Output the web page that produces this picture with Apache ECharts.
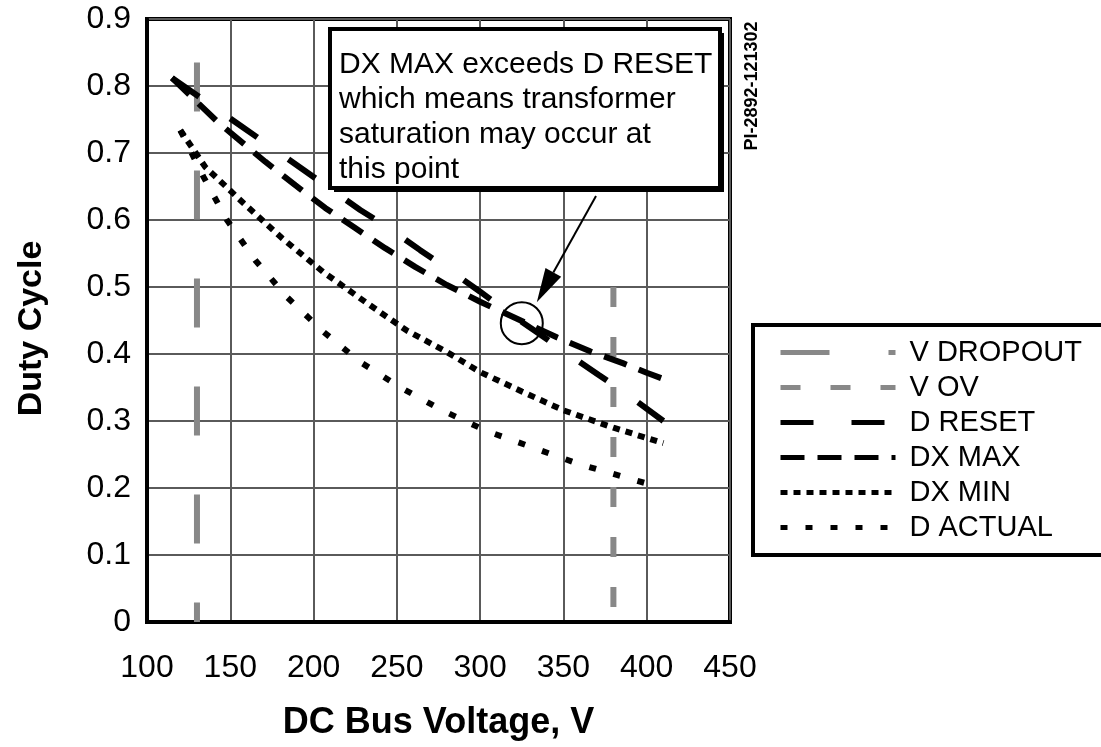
<!DOCTYPE html>
<html lang="en">
<head>
<meta charset="UTF-8">
<title>Duty Cycle vs DC Bus Voltage</title>
<style>html,body{margin:0;padding:0;background:#fff}</style>
</head>
<body>
<div id="chart" style="width:1101px;height:747px"></div>
<script src="https://cdn.jsdelivr.net/npm/echarts@6/dist/echarts.min.js"></script>
<script>
const FONT = '"Liberation Sans", Arial, sans-serif';

// axis ticks
const xTicks = [100, 150, 200, 250, 300, 350, 400, 450];
const yTicks = [0, 0.1, 0.2, 0.3, 0.4, 0.5, 0.6, 0.7, 0.8, 0.9];

// vertical limit lines
const vDropoutX = [130, 130];
const vDropoutY = [0.835, 0];
const vOvX = [380, 380];
const vOvY = [0.5, 0];

// D RESET
const dResetX = [115, 156, 171, 207, 228, 244, 264, 280, 300, 319, 335, 351, 371, 387, 410];
const dResetY = [0.812, 0.741, 0.715, 0.652, 0.615, 0.590, 0.555, 0.528, 0.493, 0.458, 0.431, 0.403, 0.369, 0.342, 0.300];

// DX MAX
const dxMaxX = [115, 143, 171, 189, 207, 225, 243, 261, 280, 300, 326, 346, 366, 386, 400, 413];
const dxMaxY = [0.812, 0.745, 0.687, 0.652, 0.618, 0.588, 0.558, 0.530, 0.503, 0.478, 0.448, 0.425, 0.404, 0.386, 0.372, 0.360];

// DX MIN
const dxMinX = [120, 135, 158, 181, 206, 232, 256, 280, 300, 325, 350, 380, 410];
const dxMinY = [0.734, 0.679, 0.625, 0.573, 0.522, 0.476, 0.435, 0.403, 0.373, 0.344, 0.316, 0.290, 0.267];

// D ACTUAL
const dActX = [120, 134, 148, 165, 184, 206, 228, 253, 278, 304, 332, 359, 387, 401];
const dActY = [0.734, 0.664, 0.600, 0.540, 0.485, 0.433, 0.388, 0.349, 0.315, 0.285, 0.260, 0.236, 0.216, 0.206];

const names = ['V DROPOUT', 'V OV', 'D RESET', 'DX MAX', 'DX MIN', 'D ACTUAL'];

// line look for each series (same in legend)
const looks = [
    { color: '#888', width: 6, type: [49, 59] },
    { color: '#888', width: 6, type: [20, 30] },
    { color: '#000', width: 6, type: [33, 38] },
    { color: '#000', width: 6, type: [24, 13] },
    { color: '#000', width: 6, type: [7, 6] },
    { color: '#000', width: 6, type: [7, 18] }
];

const pts = (xs, ys) => xs.map((x, i) => [x, ys[i]]);
const dataSets = [
    pts(vDropoutX, vDropoutY),
    pts(vOvX, vOvY),
    pts(dResetX, dResetY),
    pts(dxMaxX, dxMaxY),
    pts(dxMinX, dxMinY),
    pts(dActX, dActY)
];

const oChart = echarts.init(document.getElementById('chart'));

oChart.setOption({
    animation: false,
    backgroundColor: '#fff',
    textStyle: { fontFamily: FONT },
    grid: {
        left: 147, top: 19, right: 371, bottom: 125,
        show: true, borderColor: '#000', borderWidth: 4
    },
    xAxis: {
        type: 'value',
        min: xTicks[0], max: xTicks[xTicks.length - 1], interval: xTicks[1] - xTicks[0],
        name: 'DC Bus Voltage, V',
        nameLocation: 'middle',
        nameGap: 83,
        nameTextStyle: { fontSize: 36, fontWeight: 'bold', color: '#000', fontFamily: FONT },
        axisLine: { lineStyle: { color: '#000', width: 4 } },
        axisTick: { show: false },
        axisLabel: { fontSize: 32, color: '#000', margin: 30, fontFamily: FONT },
        splitLine: { show: true, lineStyle: { color: '#5a5a5a', width: 2 } }
    },
    yAxis: {
        type: 'value',
        min: yTicks[0], max: yTicks[yTicks.length - 1], interval: 0.1,
        name: 'Duty Cycle',
        nameLocation: 'middle',
        nameGap: 98,
        nameTextStyle: { fontSize: 34, fontWeight: 'bold', color: '#000', fontFamily: FONT, padding: [0, 16, 0, 0] },
        axisLine: { lineStyle: { color: '#000', width: 4 } },
        axisTick: { show: false },
        axisLabel: { fontSize: 32, color: '#000', margin: 16, fontFamily: FONT },
        splitLine: { show: true, lineStyle: { color: '#5a5a5a', width: 2 } }
    },
    legend: {
        orient: 'vertical',
        left: 753, top: 325,
        padding: [10, 400, 10, 25],
        backgroundColor: '#fff',
        borderColor: '#000',
        borderWidth: 4,
        itemWidth: 115,
        itemHeight: 35,
        itemGap: 0,
        selectedMode: false,
        textStyle: { fontSize: 29, color: '#000', lineHeight: 35, fontFamily: FONT, padding: [0, 0, 0, 9] },
        data: names.map((n, i) => ({
            name: n,
            itemStyle: { opacity: 0 },
            lineStyle: { color: looks[i].color, width: 5, type: looks[i].type, cap: 'butt', opacity: 1 }
        }))
    },
    series: names.map((n, i) => ({
        name: n,
        type: 'line',
        symbol: 'none',
        data: dataSets[i],
        lineStyle: { color: looks[i].color, width: looks[i].width, type: looks[i].type, cap: 'butt' },
        itemStyle: { color: looks[i].color },
        silent: true,
        z: 2 + i
    }))
});

// annotation: circle on the crossing point, arrow from the note box
const ring = oChart.convertToPixel({ gridIndex: 0 }, [325, 0.446]);
const ringR = 21;
const tip = [ring[0] + 15, ring[1] - 21];
const tail = [596, 196];
const ang = Math.atan2(tip[1] - tail[1], tip[0] - tail[0]);
const headL = 34, headW = 9;
const bx = tip[0] - headL * Math.cos(ang), by = tip[1] - headL * Math.sin(ang);
const nx = -Math.sin(ang) * headW, ny = Math.cos(ang) * headW;

oChart.setOption({
    graphic: [
        { type: 'rect', z: 100, shape: { x: 334, y: 33, width: 390, height: 159 }, style: { fill: '#000' } },
        { type: 'rect', z: 101, shape: { x: 330, y: 29, width: 390, height: 159 }, style: { fill: '#fff', stroke: '#000', lineWidth: 4 } },
        {
            type: 'text', z: 102, x: 339, y: 47,
            style: {
                text: 'DX MAX exceeds D RESET\nwhich means transformer\nsaturation may occur at\nthis point',
                font: '30px ' + FONT, lineHeight: 35, fill: '#000'
            }
        },
        { type: 'circle', z: 102, shape: { cx: ring[0], cy: ring[1], r: ringR }, style: { fill: null, stroke: '#000', lineWidth: 2 } },
        { type: 'line', z: 102, shape: { x1: tail[0], y1: tail[1], x2: bx, y2: by }, style: { stroke: '#000', lineWidth: 2 } },
        { type: 'polygon', z: 102, shape: { points: [tip, [bx + nx, by + ny], [bx - nx, by - ny]] }, style: { fill: '#000' } },
        {
            type: 'text', z: 102, x: 752, y: 86, rotation: Math.PI / 2,
            style: { text: 'PI-2892-121302', font: 'bold 18px ' + FONT, fill: '#000', align: 'center', verticalAlign: 'middle' }
        }
    ]
});
</script>
</body>
</html>
